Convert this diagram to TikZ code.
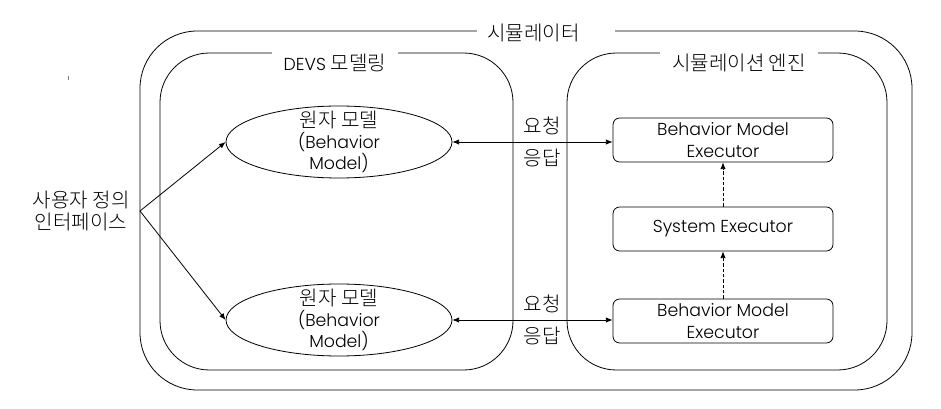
\documentclass[tikz,border=0pt]{standalone}
\usepackage{fontspec}
\setmainfont{Poppins}[UprightFont=* Light]
\newfontfamily\krfont{Noto Sans CJK KR}[Scale=1.16, UprightFont=* Light]
\newcommand{\kor}[1]{{\krfont #1}}
\usetikzlibrary{shapes, arrows.meta, positioning}

\tikzset{
  every node/.style={font=\fontsize{13}{16}\selectfont},
  titlebox/.style={fill=white, inner xsep=9pt, inner ysep=2pt},
  exebox/.style={draw, rectangle, rounded corners=5pt, minimum width=165pt, minimum height=33pt, inner ysep=1pt, align=center},
  atomic/.style={draw, ellipse, minimum width=169.5pt, minimum height=54pt, inner sep=0pt},
  msg/.style={{Latex[length=5pt,width=4pt]}-{Latex[length=5pt,width=4pt]}},
  trig/.style={dashed, dash pattern=on 2.5pt off 1.5pt, ->},
}

\begin{document}
\begin{tikzpicture}[x=0.75pt, y=-0.75pt, line width=0.6pt, >={Latex[length=5pt,width=4pt]}]
\useasboundingbox (0,0) rectangle (941,409);

% containers
\draw[rounded corners=43pt] (140,31) rectangle (912,390);
\draw[rounded corners=37pt] (160,53) rectangle (513,370);
\draw[rounded corners=37pt] (567,53) rectangle (887,370);
\node[titlebox, inner xsep=7.5pt] (simtitle) at (546,33) {\kor{시뮬레이터}\hspace*{19pt}};
\node[titlebox, anchor=north] (devstitle) at (335,51) {DEVS \kor{모델링}};
\node[titlebox, anchor=north] (enginetitle) at (739,51) {\kor{시뮬레이션 엔진}};

% atomic models
\node[atomic] (am1) at (339,142) {};
\node[align=center] (am1text) at (am1) {\kor{원자 모델}\\(Behavior\\Model)};
\node[atomic] (am2) at (339,320) {};
\node[align=center] (am2text) at (am2) {\kor{원자 모델}\\(Behavior\\Model)};

% engine
\node[exebox] (bme1) at (723,140) {Behavior Model\\Executor};
\node[exebox] (sysexe) at (723,229) {System Executor};
\node[exebox] (bme2) at (723,321) {Behavior Model\\Executor};

\node[align=center, anchor=east, inner xsep=7.5pt] (ui) at (140,211) {\kor{사용자 정의}\\\kor{인터페이스}};

\draw[->] (ui.east) -- (am1.west);
\draw[->] (ui.east) -- (am2.west);

\draw[msg] (am1.east) -- (am1.east -| bme1.west)
  node[pos=0.56, above=2pt] (req1) {\kor{요청}}
  node[pos=0.56, below=2pt] (res1) {\kor{응답}};
\draw[msg] (am2.east) -- (am2.east -| bme2.west)
  node[pos=0.56, above=2pt] (req2) {\kor{요청}}
  node[pos=0.56, below=2pt] (res2) {\kor{응답}};

\draw[trig] (bme2.north) -- (sysexe.south);
\draw[trig] (sysexe.north) -- (bme1.south);

\draw[gray] (68,76) -- (68,80);
\end{tikzpicture}
\end{document}
